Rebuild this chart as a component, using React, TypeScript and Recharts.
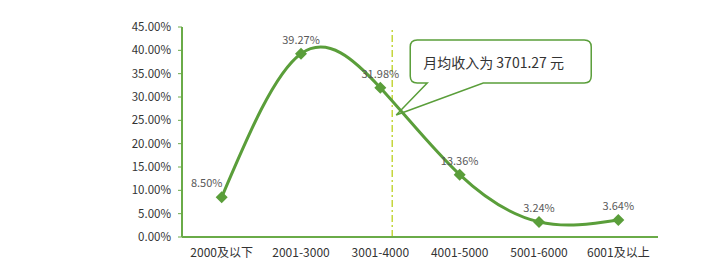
import { LabelList, Line, LineChart, ReferenceLine, XAxis, YAxis } from "recharts";

// 月收入区间
const categories = ["2000及以下", "2001-3000", "3001-4000", "4001-5000", "5001-6000", "6001及以上"];
// 占比 (%)
const shares = [8.5, 39.27, 31.98, 13.36, 3.24, 3.64];
const yTicks = [0, 5, 10, 15, 20, 25, 30, 35, 40, 45];
const bandEdges = [1, 2, 3, 4, 5, 6];
const meanIncomeText = "月均收入为 3701.27 元";
// 平均线在第三个区间内的位置 (从图上估计)
const meanIncomePos = 2.65;

const data = shares.map((v, i) => ({ pos: i + 0.5, name: categories[i], value: v }));

const GREEN = "#5a9e3a";
const AXIS = "#6aab48";
const FONT = "'Noto Sans CJK SC', 'Noto Sans', sans-serif";

const Diamond = (props: any) => {
  const { cx, cy } = props;
  if (cx == null || cy == null) return null;
  const r = 6;
  return <path d={`M${cx},${cy - r}L${cx + r},${cy}L${cx},${cy + r}L${cx - r},${cy}Z`} fill={GREEN} />;
};

const PointLabel = (props: any) => {
  const { x, y, value, index } = props;
  const dx = index === 0 ? -15 : 0;
  return (
    <text x={x + dx} y={y - 10} textAnchor="middle" fontSize={11} fill="#595959" fontFamily={FONT}>
      {Number(value).toFixed(2)}%
    </text>
  );
};

// 标注框
const Callout = (props: any) => {
  const vb = props.viewBox || {};
  const lx = vb.x;
  const top = vb.y;
  const bx = lx + 18;
  const by = top + 13;
  const w = 181;
  const h = 43;
  const rr = 7;
  const tipX = lx + 4;
  const tipY = top + 88;
  const p1 = bx + 17;
  const p2 = bx + 73;
  const d = [
    `M${bx + rr},${by}`,
    `L${bx + w - rr},${by}`,
    `Q${bx + w},${by} ${bx + w},${by + rr}`,
    `L${bx + w},${by + h - rr}`,
    `Q${bx + w},${by + h} ${bx + w - rr},${by + h}`,
    `L${p2},${by + h}`,
    `L${tipX},${tipY}`,
    `L${p1},${by + h}`,
    `L${bx + rr},${by + h}`,
    `Q${bx},${by + h} ${bx},${by + h - rr}`,
    `L${bx},${by + rr}`,
    `Q${bx},${by} ${bx + rr},${by}`,
    "Z",
  ].join(" ");
  return (
    <g>
      <path d={d} fill="#fff" stroke={GREEN} strokeWidth={1.5} />
      <text x={bx + 13} y={by + 28} fontSize={14} fill="#333" fontFamily={FONT}>
        {meanIncomeText}
      </text>
    </g>
  );
};

const XLabel = (props: any) => {
  const { x, y, payload } = props;
  const idx = Math.round(payload.value - 0.5);
  return (
    <text x={x} y={y + 12} textAnchor="middle" fontSize={12} fill="#333" fontFamily={FONT}>
      {categories[idx]}
    </text>
  );
};

export default function App() {
  return (
    <div style={{ width: 727, height: 278, background: "#fff", position: "absolute", left: 0, top: 0 }}>
      <LineChart width={727} height={278} data={data} margin={{ top: 27, right: 69, bottom: 11, left: 122 }}>
        <XAxis
          xAxisId="marks"
          dataKey="pos"
          type="number"
          domain={[0, 6]}
          ticks={bandEdges}
          height={0}
          mirror
          axisLine={false}
          tick={false}
          tickSize={4}
          tickLine={{ stroke: AXIS, strokeWidth: 1.5 }}
        />
        <XAxis
          dataKey="pos"
          type="number"
          domain={[0, 6]}
          ticks={[0.5, 1.5, 2.5, 3.5, 4.5, 5.5]}
          height={30}
          axisLine={{ stroke: AXIS, strokeWidth: 2 }}
          tickLine={false}
          tick={<XLabel />}
        />
        <YAxis
          type="number"
          domain={[0, 45]}
          ticks={yTicks}
          width={60}
          axisLine={{ stroke: AXIS, strokeWidth: 2 }}
          tickLine={{ stroke: AXIS }}
          tickSize={4}
          tickMargin={7}
          tick={{ fontSize: 11.5, fill: "#333", fontFamily: FONT }}
          tickFormatter={(v: number) => `${v.toFixed(2)}%`}
          interval={0}
        />
        <ReferenceLine
          x={meanIncomePos}
          stroke="#c5d63c"
          strokeWidth={1.5}
          strokeDasharray="7 3 2 3"
          segment={[
            { x: meanIncomePos, y: 43 },
            { x: meanIncomePos, y: 0 },
          ]}
          label={<Callout />}
        />
        <Line
          type="natural"
          dataKey="value"
          stroke={GREEN}
          strokeWidth={3}
          dot={<Diamond />}
          activeDot={false}
          isAnimationActive={false}
        >
          <LabelList dataKey="value" content={<PointLabel />} />
        </Line>
      </LineChart>
    </div>
  );
}
